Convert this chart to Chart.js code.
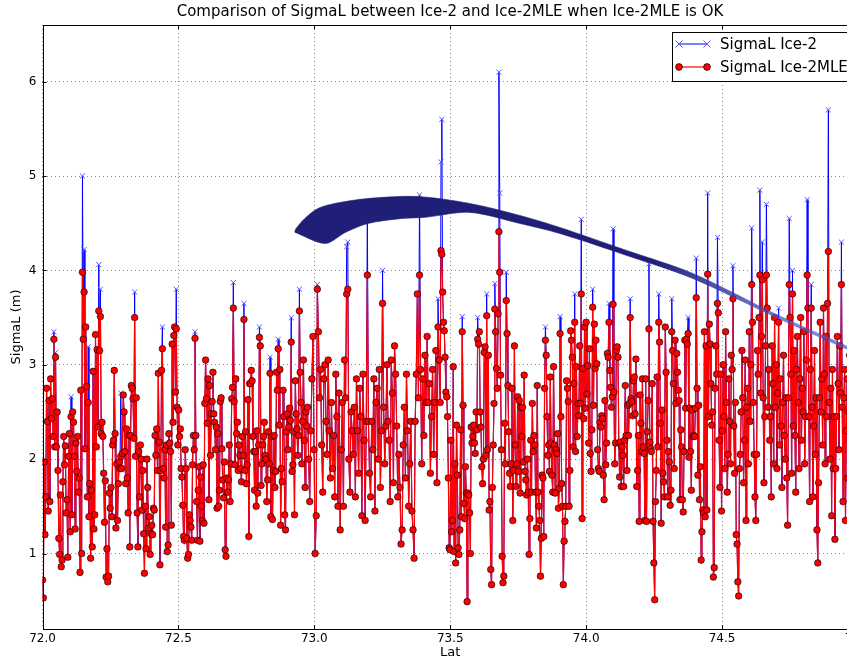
<!DOCTYPE html>
<html>
<head>
<meta charset="utf-8">
<title>SigmaL Ice-2 vs Ice-2MLE</title>
<script src="https://cdn.jsdelivr.net/npm/chart.js@4.4.1/dist/chart.umd.min.js"></script>
<style>
  html, body { margin: 0; padding: 0; overflow: hidden; background: #fff; }
  #wrap { width: 900px; height: 660px; }
</style>
</head>
<body>
<div id="wrap"><canvas id="sigmaCanvas" width="900" height="660"></canvas></div>
<script>
// latitude of every record along the track
const lat = [
  // 72.0 - 73.0
  72.000,72.003,72.006,72.009,72.012,72.015,72.018,72.021,72.024,72.027,
  72.030,72.033,72.036,72.039,72.042,72.045,72.048,72.051,72.054,72.057,
  72.060,72.063,72.066,72.069,72.072,72.075,72.078,72.081,72.084,72.087,
  72.090,72.093,72.096,72.099,72.102,72.105,72.108,72.111,72.114,72.117,
  72.120,72.123,72.126,72.129,72.132,72.135,72.138,72.141,72.144,72.147,
  72.150,72.153,72.156,72.159,72.162,72.165,72.168,72.171,72.174,72.177,
  72.180,72.183,72.186,72.189,72.192,72.195,72.198,72.201,72.204,72.207,
  72.210,72.213,72.216,72.219,72.222,72.225,72.228,72.231,72.234,72.237,
  72.240,72.243,72.246,72.249,72.252,72.255,72.258,72.261,72.264,72.267,
  72.270,72.273,72.276,72.279,72.282,72.285,72.288,72.291,72.294,72.297,
  72.300,72.303,72.306,72.309,72.312,72.315,72.318,72.321,72.324,72.327,
  72.330,72.333,72.336,72.339,72.342,72.345,72.348,72.351,72.354,72.357,
  72.360,72.363,72.366,72.369,72.372,72.375,72.378,72.381,72.384,72.387,
  72.390,72.393,72.396,72.399,72.402,72.405,72.408,72.411,72.414,72.417,
  72.420,72.423,72.426,72.429,72.432,72.435,72.438,72.441,72.444,72.447,
  72.450,72.453,72.456,72.459,72.462,72.465,72.468,72.471,72.474,72.477,
  72.480,72.483,72.486,72.489,72.492,72.495,72.498,72.501,72.504,72.507,
  72.510,72.513,72.516,72.519,72.522,72.525,72.528,72.531,72.534,72.537,
  72.540,72.543,72.546,72.549,72.552,72.555,72.558,72.561,72.564,72.567,
  72.570,72.573,72.576,72.579,72.582,72.585,72.588,72.591,72.594,72.597,
  72.600,72.603,72.606,72.609,72.612,72.615,72.618,72.621,72.624,72.627,
  72.630,72.633,72.636,72.639,72.642,72.645,72.648,72.651,72.654,72.657,
  72.660,72.663,72.666,72.669,72.672,72.675,72.678,72.681,72.684,72.687,
  72.690,72.693,72.696,72.699,72.702,72.705,72.708,72.711,72.714,72.717,
  72.720,72.723,72.726,72.729,72.732,72.735,72.738,72.741,72.744,72.747,
  72.750,72.753,72.756,72.759,72.762,72.765,72.768,72.771,72.774,72.777,
  72.780,72.783,72.786,72.789,72.792,72.795,72.798,72.801,72.804,72.807,
  72.810,72.813,72.816,72.819,72.822,72.825,72.828,72.831,72.834,72.837,
  72.840,72.843,72.846,72.849,72.852,72.855,72.858,72.861,72.864,72.867,
  72.870,72.873,72.876,72.879,72.882,72.885,72.888,72.891,72.894,72.897,
  72.900,72.903,72.906,72.909,72.912,72.915,72.918,72.921,72.924,72.927,
  72.930,72.933,72.936,72.939,72.942,72.945,72.948,72.951,72.954,72.957,
  72.960,72.963,72.966,72.969,72.972,
  // 73.0 - 73.5
  72.975,72.979,72.983,72.987,72.991,72.995,72.999,73.003,73.007,73.011,
  73.015,73.019,73.023,73.027,73.031,73.035,73.039,73.043,73.047,73.051,
  73.055,73.059,73.063,73.067,73.071,73.075,73.079,73.083,73.087,73.091,
  73.095,73.099,73.103,73.107,73.111,73.115,73.119,73.123,73.127,73.131,
  73.135,73.139,73.143,73.147,73.151,73.155,73.159,73.163,73.167,73.171,
  73.175,73.179,73.183,73.187,73.191,73.195,73.199,73.203,73.207,73.211,
  73.215,73.219,73.223,73.227,73.231,73.235,73.239,73.243,73.247,73.251,
  73.255,73.259,73.263,73.267,73.271,73.275,73.279,73.283,73.287,73.291,
  73.295,73.299,73.303,73.307,73.311,73.315,73.319,73.323,73.327,73.331,
  73.335,73.339,73.343,73.347,73.351,73.355,73.359,73.363,73.367,73.371,
  73.375,73.379,73.383,73.387,73.391,73.395,73.399,73.403,73.407,73.411,
  73.415,73.419,73.423,73.427,73.431,73.435,73.439,73.443,73.447,73.451,
  73.455,73.459,73.463,
  // 73.5 - 74.5
  73.466,73.469,73.472,73.475,73.478,73.481,73.484,73.487,73.490,73.493,
  73.496,73.499,73.502,73.505,73.508,73.511,73.514,73.517,73.520,73.523,
  73.526,73.529,73.532,73.535,73.538,73.541,73.544,73.547,73.550,73.553,
  73.556,73.559,73.562,73.565,73.568,73.571,73.574,73.577,73.580,73.583,
  73.586,73.589,73.592,73.595,73.598,73.601,73.604,73.607,73.610,73.613,
  73.616,73.619,73.622,73.625,73.628,73.631,73.634,73.637,73.640,73.643,
  73.646,73.649,73.652,73.655,73.658,73.661,73.664,73.667,73.670,73.673,
  73.676,73.679,73.682,73.685,73.688,73.691,73.694,73.697,73.700,73.703,
  73.706,73.709,73.712,73.715,73.718,73.721,73.724,73.727,73.730,73.733,
  73.736,73.739,73.742,73.745,73.748,73.751,73.754,73.757,73.760,73.763,
  73.766,73.769,73.772,73.775,73.778,73.781,73.784,73.787,73.790,73.793,
  73.796,73.799,73.802,73.805,73.808,73.811,73.814,73.817,73.820,73.823,
  73.826,73.829,73.832,73.835,73.838,73.841,73.844,73.847,73.850,73.853,
  73.856,73.859,73.862,73.865,73.868,73.871,73.874,73.877,73.880,73.883,
  73.886,73.889,73.892,73.895,73.898,73.901,73.904,73.907,73.910,73.913,
  73.916,73.919,73.922,73.925,73.928,73.931,73.934,73.937,73.940,73.943,
  73.946,73.949,73.952,73.955,73.958,73.961,73.964,73.967,73.970,73.973,
  73.976,73.979,73.982,73.985,73.988,73.991,73.994,73.997,74.000,74.003,
  74.006,74.009,74.012,74.015,74.018,74.021,74.024,74.027,74.030,74.033,
  74.036,74.039,74.042,74.045,74.048,74.051,74.054,74.057,74.060,74.063,
  74.066,74.069,74.072,74.075,74.078,74.081,74.084,74.087,74.090,74.093,
  74.096,74.099,74.102,74.105,74.108,74.111,74.114,74.117,74.120,74.123,
  74.126,74.129,74.132,74.135,74.138,74.141,74.144,74.147,74.150,74.153,
  74.156,74.159,74.162,74.165,74.168,74.171,74.174,74.177,74.180,74.183,
  74.186,74.189,74.192,74.195,74.198,74.201,74.204,74.207,74.210,74.213,
  74.216,74.219,74.222,74.225,74.228,74.231,74.234,74.237,74.240,74.243,
  74.246,74.249,74.252,74.255,74.258,74.261,74.264,74.267,74.270,74.273,
  74.276,74.279,74.282,74.285,74.288,74.291,74.294,74.297,74.300,74.303,
  74.306,74.309,74.312,74.315,74.318,74.321,74.324,74.327,74.330,74.333,
  74.336,74.339,74.342,74.345,74.348,74.351,74.354,74.357,74.360,74.363,
  74.366,74.369,74.372,74.375,74.378,74.381,74.384,74.387,74.390,74.393,
  74.396,74.399,74.402,74.405,74.408,74.411,74.414,74.417,74.420,74.423,
  74.426,74.429,74.432,74.435,74.438,74.441,74.444,74.447,74.450,74.453,
  74.456,74.459,74.462,
  // 74.5 - 75.0
  74.465,74.468,74.471,74.474,74.477,74.480,74.483,74.486,74.489,74.492,
  74.495,74.498,74.501,74.504,74.507,74.510,74.513,74.516,74.519,74.522,
  74.525,74.528,74.531,74.534,74.537,74.540,74.543,74.546,74.549,74.552,
  74.555,74.558,74.561,74.564,74.567,74.570,74.573,74.576,74.579,74.582,
  74.585,74.588,74.591,74.594,74.597,74.600,74.603,74.606,74.609,74.612,
  74.615,74.618,74.621,74.624,74.627,74.630,74.633,74.636,74.639,74.642,
  74.645,74.648,74.651,74.654,74.657,74.660,74.663,74.666,74.669,74.672,
  74.675,74.678,74.681,74.684,74.687,74.690,74.693,74.696,74.699,74.702,
  74.705,74.708,74.711,74.714,74.717,74.720,74.723,74.726,74.729,74.732,
  74.735,74.738,74.741,74.744,74.747,74.750,74.753,74.756,74.759,74.762,
  74.765,74.768,74.771,74.774,74.777,74.780,74.783,74.786,74.789,74.792,
  74.795,74.798,74.801,74.804,74.807,74.810,74.813,74.816,74.819,74.822,
  74.825,74.828,74.831,74.834,74.837,74.840,74.843,74.846,74.849,74.852,
  74.855,74.858,74.861,74.864,74.867,74.870,74.873,74.876,74.879,74.882,
  74.885,74.888,74.891,74.894,74.897,74.900,74.903,74.906,74.909,74.912,
  74.915,74.918,74.921,74.924,74.927,74.930,74.933,74.936,74.939,74.942,
  74.945,74.948,74.951,74.954,74.957,74.960,74.963,74.966,74.969,74.972,
  74.975,74.978,74.981,74.984,74.987,74.990,74.993,74.996
];

// SigmaL from Ice-2MLE (m)
const sigmaMLE = [
  // 72.0 - 73.0
  0.72,0.53,1.97,1.2,1.6,2.75,2.4,1.45,2.62,1.55,
  2.85,2.43,2.64,2.24,3.27,2.13,3.08,2.13,2.5,1.88,
  1.16,0.99,1.62,0.86,0.93,1.76,2.24,1.94,2.14,1.43,
  1.57,0.96,2.03,2.27,1.23,2.45,1.41,2.5,2.39,2.03,
  1.26,2.17,1.87,2.24,1.65,1.8,0.8,2.73,1.0,3.98,
  3.27,3.77,2.11,3.4,2.77,1.6,2.6,1.39,1.74,0.95,
  1.67,1.07,2.93,1.26,1.41,3.32,2.13,3.16,2.34,3.57,
  3.15,3.51,2.27,2.39,2.24,1.85,1.33,1.77,0.75,1.05,
  0.7,0.76,1.64,1.48,1.7,1.39,2.15,2.2,2.94,2.27,
  1.27,1.95,1.35,1.74,1.97,1.9,2.03,1.9,2.06,2.68,
  2.5,2.08,1.74,2.32,1.8,1.43,2.25,1.07,2.25,2.78,
  2.75,2.64,2.22,3.5,2.03,2.65,1.43,1.07,2.08,1.6,
  2.15,2.0,1.46,1.88,1.21,0.79,1.5,1.05,2.0,1.7,
  1.27,1.39,0.99,1.21,1.3,1.2,1.48,1.46,2.25,2.04,
  2.32,1.88,2.91,2.18,0.88,1.88,2.94,3.17,1.9,1.8,
  2.1,1.28,2.15,1.02,1.09,2.27,2.17,2.08,1.3,3.22,
  2.39,3.31,3.4,2.71,3.38,2.55,2.15,2.52,2.24,2.32,
  1.9,1.81,1.51,1.18,1.14,2.1,1.9,1.16,0.95,0.99,
  1.41,1.35,1.28,1.14,1.94,2.25,2.1,3.28,2.25,1.55,
  1.14,1.67,1.92,1.13,1.81,1.5,1.35,1.94,1.32,2.59,
  3.05,2.64,2.38,2.85,1.57,2.78,2.04,2.48,2.61,2.92,
  2.48,2.39,2.1,2.34,1.48,2.27,1.5,1.67,2.61,2.65,
  2.11,1.78,1.59,1.97,1.04,0.97,1.8,1.65,1.78,2.15,
  1.55,1.95,2.64,2.76,3.6,2.61,1.94,2.85,2.27,2.39,
  1.88,2.15,2.04,1.9,1.76,2.24,2.04,3.48,1.88,2.29,
  1.74,1.94,2.63,1.18,2.8,2.8,2.94,2.83,2.24,2.08,
  1.67,2.08,1.5,2.3,1.64,2.15,3.29,3.2,1.72,1.95,
  2.15,2.24,2.39,2.04,2.0,1.55,1.78,2.29,1.95,2.91,
  1.39,2.24,1.36,1.88,2.25,1.7,1.87,2.92,2.73,3.17,
  2.36,2.95,1.3,1.9,1.76,2.73,2.45,1.41,1.25,2.29,
  2.48,2.1,2.34,2.54,2.41,3.24,1.87,1.94,2.29,1.41,
  2.83,2.48,2.32,2.04,2.25,3.57,2.92,2.6,1.95,2.4,
  3.05,2.2,1.7,2.5,2.35,
  // 73.0 - 73.5
  2.55,2.0,1.55,2.3,2.85,3.3,2.1,1.0,1.4,3.8,
  3.35,2.65,2.95,2.15,1.65,2.85,3.0,2.4,2.05,3.05,
  2.3,1.8,2.6,1.9,2.25,1.6,2.9,2.45,1.5,2.7,
  1.25,2.1,2.6,1.5,3.05,2.65,3.75,3.8,2.0,1.65,
  2.5,2.3,2.05,2.55,1.6,2.85,2.3,1.85,2.75,2.45,
  1.4,2.9,2.2,1.35,2.4,3.95,2.4,1.85,1.6,2.4,
  2.1,2.85,1.45,2.6,2.75,2.0,2.95,1.7,2.3,3.65,
  2.55,1.95,2.35,3.0,2.4,2.2,1.55,3.05,2.7,1.75,
  3.2,2.9,2.35,1.6,2.05,1.7,1.1,1.25,2.15,2.55,
  1.8,2.9,2.3,1.5,1.95,2.4,1.45,1.25,0.95,2.4,
  2.9,3.75,2.65,3.95,2.95,1.95,2.85,2.25,3.1,2.6,
  3.3,2.6,2.8,1.85,2.45,2.95,2.05,2.6,3.15,1.75,
  3.4,3.05,2.6,
  // 73.5 - 74.5
  4.21,4.17,3.77,3.45,3.36,3.08,2.71,2.66,2.45,1.8,
  1.06,1.04,2.2,1.23,1.35,2.98,1.02,1.95,0.9,2.36,
  1.83,1.06,0.99,1.25,2.31,1.39,3.35,2.57,1.53,1.37,
  1.92,1.64,0.49,1.64,1.62,1.43,1.0,2.34,2.17,2.24,
  2.36,2.17,2.06,2.5,2.31,3.27,3.22,3.35,2.5,2.34,
  1.92,1.74,2.0,3.13,3.19,2.04,3.52,2.1,3.1,1.46,
  1.55,0.83,0.67,1.7,2.15,2.59,3.59,3.35,2.96,2.75,
  3.54,4.41,3.98,2.89,2.1,0.97,0.69,0.76,2.38,1.95,
  3.68,3.33,2.78,2.29,1.85,1.71,1.95,2.75,1.35,1.88,
  3.2,2.15,1.71,1.95,2.66,1.87,2.62,1.64,2.55,2.24,
  2.55,1.97,2.89,1.87,1.78,1.62,2.0,1.65,0.99,1.37,
  2.2,1.65,2.59,2.08,2.25,2.15,1.65,1.27,2.78,1.65,
  1.5,1.35,0.76,1.16,1.83,1.8,1.18,2.75,3.26,3.1,
  2.45,2.04,2.15,1.87,2.87,2.17,1.83,1.65,2.98,2.15,
  1.64,2.1,2.06,2.27,1.48,1.69,3.33,2.45,1.74,1.5,
  0.67,1.13,1.34,1.5,2.83,2.75,2.61,1.5,1.88,3.36,
  3.26,3.08,2.13,2.8,3.45,2.08,2.98,2.24,2.59,2.46,
  3.2,2.59,3.75,1.37,2.96,2.43,3.4,2.54,3.45,2.69,
  2.99,2.17,3.17,2.06,1.87,2.31,3.61,2.57,3.43,2.96,
  3.26,3.01,2.1,1.9,1.87,2.39,2.34,2.46,2.43,1.83,
  1.57,2.62,1.94,2.17,3.12,3.08,3.45,2.94,2.76,2.55,
  2.66,3.64,2.71,1.95,2.17,3.15,3.19,3.08,2.17,1.81,
  2.18,1.71,2.13,2.04,1.71,2.2,2.78,2.25,1.88,2.57,
  2.25,2.59,3.5,2.64,2.61,2.46,2.83,2.87,2.48,3.06,
  1.71,1.88,2.25,1.34,2.68,2.38,2.08,2.85,2.13,2.06,
  1.35,2.85,1.34,2.29,2.62,3.38,2.18,2.11,2.08,2.8,
  1.34,0.9,0.51,1.55,1.88,2.87,2.13,3.45,3.24,2.38,
  1.32,2.52,1.85,1.76,1.6,3.4,2.92,2.2,1.6,2.08,
  1.97,1.51,1.67,3.35,3.15,2.8,1.9,3.26,2.59,3.12,
  2.92,2.73,2.62,1.57,2.31,2.13,1.57,1.44,2.08,3.26,
  2.54,3.27,3.22,3.33,2.02,2.54,2.08,1.67,2.52,2.24,
  2.25,2.24,2.54,3.71,2.75,1.83,2.57,1.57,1.92,0.93,
  1.23,1.46,1.43,3.35,1.39,3.2,1.46,3.96,2.45,3.43,
  3.22,2.8,2.36,
  // 74.5 - 75.0
  2.5,0.75,0.85,2.75,3.2,2.9,3.65,3.55,2.2,1.7,
  2.9,1.45,2.3,3.0,2.45,1.9,3.35,2.6,1.65,2.05,
  2.85,2.4,1.95,3.1,2.95,3.7,2.35,1.85,2.6,1.2,
  1.1,0.7,0.55,1.9,2.05,2.5,3.15,2.65,1.75,2.2,
  3.05,1.35,2.55,2.75,1.95,3.35,2.4,3.0,3.85,3.45,
  2.6,2.05,1.6,1.35,2.05,3.15,2.9,3.5,3.95,2.7,
  3.3,3.9,2.65,1.75,2.45,3.2,3.95,3.6,2.55,2.95,
  2.2,2.45,1.6,3.2,2.8,1.95,3.5,2.55,3.0,1.9,
  2.7,3.45,2.15,2.85,2.35,1.7,2.6,3.1,2.25,2.0,
  2.65,1.8,1.3,2.65,3.85,3.5,2.9,1.85,3.75,2.35,
  3.15,2.25,1.65,2.95,3.3,2.6,1.9,2.85,3.5,2.2,
  2.75,2.5,3.35,1.95,2.45,3.05,3.95,3.6,2.45,1.55,
  2.95,3.6,2.55,1.6,2.35,3.15,2.05,2.65,1.25,0.9,
  1.75,2.65,3.45,2.5,2.85,2.15,3.6,2.9,1.95,3.3,
  2.45,3.65,4.2,2.6,2.0,2.75,1.4,2.95,1.9,2.45,
  1.15,1.9,2.45,3.3,2.8,2.1,3.2,2.7,3.85,2.55,
  1.55,2.65,2.95,1.35,2.3,2.85,1.8,2.5,3.1,2.2,
  1.7,2.6,2.95,2.05,2.4,1.85,2.75,2.3
];

// records where Ice-2 differs from Ice-2MLE: [lat, SigmaL Ice-2]
const ice2Peaks = [
  [72.042,3.35],[72.048,3.13],[72.105,2.66],[72.147,5.0],[72.153,4.22],
  [72.168,3.19],[72.207,4.06],[72.213,3.8],[72.288,2.7],[72.339,3.77],
  [72.441,3.4],[72.492,3.8],[72.561,3.35],[72.702,3.87],[72.741,3.65],
  [72.798,3.4],[72.837,3.08],[72.867,3.27],[72.915,3.5],[72.945,3.8],
  [73.011,3.85],[73.119,4.25],[73.123,4.3],[73.195,4.6],[73.251,4.0],
  [73.387,4.8],[73.455,3.7],
  [73.466,5.15],[73.469,5.6],[73.544,3.51],[73.601,3.5],[73.634,3.75],
  [73.664,3.86],[73.679,6.1],[73.682,4.82],[73.706,3.98],[73.850,3.4],
  [73.904,3.51],[73.958,3.75],[73.982,4.54],[74.024,3.8],[74.084,3.65],
  [74.099,4.44],[74.162,3.7],[74.231,4.07],[74.267,3.75],[74.315,3.7],
  [74.375,3.5],[74.405,4.13],[74.447,4.82],
  [74.483,4.35],[74.540,4.05],[74.609,4.45],[74.639,4.85],[74.648,4.3],
  [74.663,4.7],[74.708,3.6],[74.747,4.55],[74.759,4.0],[74.813,4.75],
  [74.828,3.85],[74.891,5.7],[74.939,4.3]
];

// outline of the dense navy trace: upper and lower edge, west to east
const bandTop = [
  [72.928,4.405],[72.932,4.44],[72.965,4.55],[73.013,4.656],[73.075,4.709],
  [73.197,4.762],[73.380,4.783],[73.572,4.709],[73.756,4.582],[73.903,4.455],
  [74.149,4.211],[74.392,3.968],[74.711,3.518],[74.957,3.2],[75.0,3.145]
];
const bandBottom = [
  [72.928,4.405],[73.040,4.285],[73.114,4.402],[73.197,4.497],[73.322,4.55],
  [73.404,4.561],[73.572,4.614],[73.756,4.497],[73.903,4.391],[74.149,4.158],
  [74.392,3.914],[74.711,3.485],[74.957,3.168],[75.0,3.113]
];

const xTicks = [72.0, 72.5, 73.0, 73.5, 74.0, 74.5, 75.0];
const yTicks = [1, 2, 3, 4, 5, 6];

const titleText = 'Comparison of SigmaL between Ice-2 and Ice-2MLE when Ice-2MLE is OK';
const seriesNames = ['SigmaL Ice-2', 'SigmaL Ice-2MLE'];

const FONT = "'DejaVu Sans', 'Liberation Sans', sans-serif";

if (lat.length !== sigmaMLE.length) {
  throw new Error('lat/sigma length mismatch: ' + lat.length + ' vs ' + sigmaMLE.length);
}

// Ice-2 follows Ice-2MLE except at the listed records
const sigmaIce2 = sigmaMLE.slice();
ice2Peaks.forEach(function(p) {
  let best = 0;
  for (let i = 1; i < lat.length; i++) {
    if (Math.abs(lat[i] - p[0]) < Math.abs(lat[best] - p[0])) best = i;
  }
  sigmaIce2[best] = p[1];
});

const mlePoints = lat.map((x, i) => ({ x: x, y: sigmaMLE[i] }));
const ice2Points = lat.map((x, i) => ({ x: x, y: sigmaIce2[i] }));
const bandPoints = bandTop.concat(bandBottom.slice().reverse()).map(p => ({ x: p[0], y: p[1] }));

// the trace thins out and fades towards the east
function bandColor(context) {
  const chart = context.chart;
  if (!chart.chartArea) return '#1f1f77';
  const xs = chart.scales.x;
  const g = chart.ctx.createLinearGradient(xs.getPixelForValue(74.25), 0, xs.getPixelForValue(74.75), 0);
  g.addColorStop(0, 'rgba(31,31,119,1)');
  g.addColorStop(1, 'rgba(72,88,192,0.7)');
  return g;
}

// black box round the axes with small inward ticks
const axesFrame = {
  id: 'axesFrame',
  afterDatasetsDraw(chart) {
    const { ctx, chartArea: a, scales } = chart;
    ctx.save();
    ctx.strokeStyle = '#000';
    ctx.lineWidth = 1;
    ctx.strokeRect(Math.round(a.left) + 0.5, Math.round(a.top) + 0.5,
      Math.round(a.right - a.left), Math.round(a.bottom - a.top));
    ctx.beginPath();
    xTicks.forEach(v => {
      const px = Math.round(scales.x.getPixelForValue(v)) + 0.5;
      ctx.moveTo(px, a.bottom); ctx.lineTo(px, a.bottom - 4);
      ctx.moveTo(px, a.top); ctx.lineTo(px, a.top + 4);
    });
    yTicks.forEach(v => {
      const py = Math.round(scales.y.getPixelForValue(v)) + 0.5;
      ctx.moveTo(a.left, py); ctx.lineTo(a.left + 4, py);
      ctx.moveTo(a.right, py); ctx.lineTo(a.right - 4, py);
    });
    ctx.stroke();
    ctx.restore();
  }
};

// legend box in the upper right corner, line + marker handles
const legendBox = {
  id: 'legendBox',
  afterDraw(chart) {
    const { ctx, chartArea: a } = chart;
    const right = Math.round(a.right) - 8;
    const left = right - 178;
    const top = Math.round(a.top) + 7;
    const h = 49;
    ctx.save();
    ctx.fillStyle = '#fff';
    ctx.fillRect(left, top, right - left, h);
    ctx.strokeStyle = '#000';
    ctx.lineWidth = 1;
    ctx.strokeRect(left + 0.5, top + 0.5, right - left, h);

    const rows = [top + 12, top + 35];
    const x1 = left + 7, x2 = left + 35;
    // Ice-2
    ctx.strokeStyle = '#0000ff';
    ctx.beginPath(); ctx.moveTo(x1, rows[0]); ctx.lineTo(x2, rows[0]); ctx.stroke();
    [x1, x2].forEach(cx => {
      ctx.beginPath();
      ctx.moveTo(cx - 3.5, rows[0] - 3.5); ctx.lineTo(cx + 3.5, rows[0] + 3.5);
      ctx.moveTo(cx - 3.5, rows[0] + 3.5); ctx.lineTo(cx + 3.5, rows[0] - 3.5);
      ctx.strokeStyle = '#5555ff';
      ctx.stroke();
    });
    // Ice-2MLE
    ctx.strokeStyle = '#ff0000';
    ctx.lineWidth = 1.2;
    ctx.beginPath(); ctx.moveTo(x1, rows[1]); ctx.lineTo(x2, rows[1]); ctx.stroke();
    [x1, x2].forEach(cx => {
      ctx.beginPath();
      ctx.arc(cx, rows[1], 3.4, 0, Math.PI * 2);
      ctx.fillStyle = '#ff0000';
      ctx.fill();
      ctx.lineWidth = 0.7;
      ctx.strokeStyle = '#000';
      ctx.stroke();
    });

    ctx.fillStyle = '#000';
    ctx.font = '15px ' + FONT;
    ctx.textBaseline = 'middle';
    ctx.textAlign = 'left';
    ctx.fillText(seriesNames[0], left + 48, rows[0] + 1);
    ctx.fillText(seriesNames[1], left + 48, rows[1] + 1);
    ctx.restore();
  }
};

const tickFont = { family: FONT, size: 12 };
const labelFont = { family: FONT, size: 13 };

const chartSigma = new Chart(document.getElementById('sigmaCanvas'), {
  type: 'scatter',
  data: {
    datasets: [
      {
        label: 'track',
        data: bandPoints,
        showLine: true,
        fill: 'shape',
        backgroundColor: bandColor,
        borderColor: bandColor,
        borderWidth: 0.6,
        pointRadius: 0,
        tension: 0.3,
        order: 0
      },
      {
        label: seriesNames[1],
        data: mlePoints,
        showLine: true,
        borderColor: '#ff0000',
        borderWidth: 1.2,
        pointRadius: 3.3,
        pointBackgroundColor: '#ff0000',
        pointBorderColor: '#000',
        pointBorderWidth: 0.6,
        order: 1
      },
      {
        label: seriesNames[0],
        data: ice2Points,
        showLine: true,
        borderColor: '#0000ff',
        borderWidth: 1,
        pointStyle: 'crossRot',
        pointRadius: 3.6,
        pointBorderColor: '#5555ff',
        pointBorderWidth: 1,
        order: 2
      }
    ]
  },
  options: {
    responsive: false,
    animation: false,
    devicePixelRatio: 1,
    layout: { padding: 0 },
    plugins: {
      legend: { display: false },
      tooltip: { enabled: false },
      title: {
        display: true,
        text: titleText,
        color: '#000',
        font: { family: FONT, size: 15, weight: 'normal' },
        padding: { top: 3, bottom: 4 }
      }
    },
    scales: {
      x: {
        type: 'linear',
        min: 72,
        max: 75,
        afterBuildTicks: s => { s.ticks = xTicks.map(v => ({ value: v })); },
        afterFit: s => { s.height = 31; },
        ticks: {
          callback: v => v.toFixed(1),
          color: '#000',
          font: tickFont,
          padding: 3,
          maxRotation: 0,
          autoSkip: false
        },
        grid: { color: '#8a8a8a', lineWidth: 1, drawTicks: false },
        border: { display: false, dash: [1, 3] },
        title: { display: true, text: 'Lat', color: '#000', font: labelFont, padding: 0 }
      },
      y: {
        type: 'linear',
        min: 0.2,
        max: 6.6,
        afterBuildTicks: s => { s.ticks = yTicks.map(v => ({ value: v })); },
        afterFit: s => { s.width = 42.5; },
        ticks: { color: '#000', font: tickFont, padding: 6 },
        grid: { color: '#8a8a8a', lineWidth: 1, drawTicks: false },
        border: { display: false, dash: [1, 3] },
        title: { display: true, text: 'SigmaL (m)', color: '#000', font: labelFont, padding: { top: 9, bottom: 0 } }
      },
      yRight: {
        type: 'linear',
        position: 'right',
        display: true,
        afterFit: s => { s.width = 42; },
        ticks: { display: false },
        grid: { display: false },
        border: { display: false }
      }
    }
  },
  plugins: [axesFrame, legendBox]
});
</script>
</body>
</html>
